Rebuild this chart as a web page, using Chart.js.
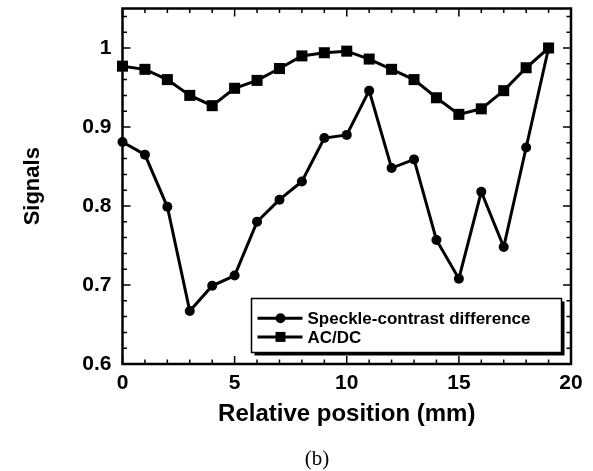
<!DOCTYPE html>
<html><head><meta charset="utf-8">
<script src="https://cdn.jsdelivr.net/npm/chart.js@4/dist/chart.umd.min.js"></script>
<style>html,body{margin:0;padding:0;background:#fff;}canvas{display:block;}</style>
</head><body>
<canvas id="c" width="593" height="471"></canvas>
<script>
const positions = [0,1,2,3,4,5,6,7,8,9,10,11,12,13,14,15,16,17,18,19];
const speckle = [0.881,0.865,0.799,0.667,0.699,0.712,0.780,0.808,0.831,0.886,0.890,0.946,0.848,0.859,0.757,0.708,0.818,0.748,0.874,1.000];
const acdc = [0.977,0.973,0.960,0.940,0.927,0.949,0.959,0.974,0.990,0.994,0.996,0.986,0.973,0.960,0.937,0.916,0.923,0.946,0.975,1.000];
const seriesNames = ['Speckle-contrast difference','AC/DC'];
const xTickValues = [0,5,10,15,20];
const xTickLabels = ['0','5','10','15','20'];
const yTickValues = [0.6,0.7,0.8,0.9,1.0];
const yTickLabels = ['0.6','0.7','0.8','0.9','1'];
const captionText = '(b)';
const xMin = 0, xMax = 20, xMinorStep = 1;
const yMin = 0.6, yMax = 1.05, yMinorStep = 0.02;

const SANS = "'Liberation Sans', Arial, sans-serif";
const SERIF = "'Liberation Serif', 'Times New Roman', serif";

const frameTicks = {
  id: 'frameTicks',
  beforeDatasetsDraw(chart) {
    const {ctx, chartArea: a, scales: {x, y}} = chart;
    ctx.save();
    ctx.strokeStyle = '#000';
    ctx.lineWidth = 1.5;
    ctx.beginPath();
    for (let i = 0; ; i++) {
      const v = xMin + i * xMinorStep;
      if (v > xMax + 1e-9) break;
      const px = x.getPixelForValue(v);
      const major = xTickValues.some(t => Math.abs(t - v) < 1e-9);
      const len = major ? 8 : 4.5;
      ctx.moveTo(px, a.bottom); ctx.lineTo(px, a.bottom - len);
      ctx.moveTo(px, a.top); ctx.lineTo(px, a.top + len);
    }
    for (let i = 0; ; i++) {
      const v = yMin + i * yMinorStep;
      if (v > yMax + 1e-9) break;
      const py = y.getPixelForValue(v);
      const major = yTickValues.some(t => Math.abs(t - v) < 1e-9);
      const len = major ? 8 : 4.5;
      ctx.moveTo(a.left, py); ctx.lineTo(a.left + len, py);
      ctx.moveTo(a.right, py); ctx.lineTo(a.right - len, py);
    }
    ctx.stroke();
    ctx.lineWidth = 2.5;
    ctx.strokeRect(a.left, a.top, a.right - a.left, a.bottom - a.top);
    ctx.restore();
  }
};

const boxLegend = {
  id: 'boxLegend',
  afterDatasetsDraw(chart) {
    const {ctx, chartArea: a} = chart;
    const w = 310, h = 54;
    const right = a.right - 9.5, bottom = a.bottom - 11.5;
    const left = right - w, top = bottom - h;
    ctx.save();
    ctx.fillStyle = '#000';
    ctx.fillRect(left + 3, top + 3, w, h);
    ctx.fillStyle = '#fff';
    ctx.fillRect(left, top, w, h);
    ctx.lineWidth = 1.5;
    ctx.strokeStyle = '#000';
    ctx.strokeRect(left, top, w, h);
    chart.data.datasets.forEach((ds, i) => {
      const cy = top + 19.7 + i * 18.7;
      ctx.strokeStyle = '#000';
      ctx.fillStyle = '#000';
      ctx.lineWidth = 3;
      ctx.beginPath();
      ctx.moveTo(left + 6, cy); ctx.lineTo(left + 51, cy);
      ctx.stroke();
      const mx = left + 29;
      if (ds.pointStyle === 'circle') {
        ctx.beginPath(); ctx.arc(mx, cy, 5, 0, Math.PI * 2); ctx.fill();
      } else {
        ctx.fillRect(mx - 5, cy - 5, 10, 10);
      }
      ctx.font = 'bold 17px ' + SANS;
      ctx.textBaseline = 'middle';
      ctx.textAlign = 'left';
      ctx.fillText(ds.label, left + 56, cy + 1);
    });
    ctx.restore();
  }
};

const caption = {
  id: 'caption',
  afterDraw(chart) {
    const {ctx} = chart;
    ctx.save();
    ctx.fillStyle = '#000';
    ctx.font = '21px ' + SERIF;
    ctx.textAlign = 'center';
    ctx.textBaseline = 'middle';
    ctx.fillText(captionText, 317, 459.5);
    ctx.restore();
  }
};

new Chart(document.getElementById('c'), {
  type: 'line',
  data: {
    datasets: [
      {
        label: seriesNames[0],
        data: positions.map((p, i) => ({x: p, y: speckle[i]})),
        borderColor: '#000', backgroundColor: '#000',
        borderWidth: 3, pointStyle: 'circle', pointRadius: 5,
        pointBorderWidth: 0, tension: 0, clip: false
      },
      {
        label: seriesNames[1],
        data: positions.map((p, i) => ({x: p, y: acdc[i]})),
        borderColor: '#000', backgroundColor: '#000',
        borderWidth: 3, pointStyle: 'rect', pointRadius: 7.8,
        pointBorderWidth: 0, tension: 0, clip: false
      }
    ]
  },
  options: {
    responsive: false,
    animation: false,
    events: [],
    layout: {padding: {top: 8.5, right: 22, bottom: 0, left: 0}},
    plugins: {
      legend: {display: false},
      tooltip: {enabled: false},
      title: {display: false}
    },
    scales: {
      x: {
        type: 'linear', min: xMin, max: xMax,
        afterBuildTicks: s => { s.ticks = xTickValues.map(v => ({value: v})); },
        afterFit: s => { s.height = 107; s.paddingLeft = 0; s.paddingRight = 0; },
        grid: {display: false, drawTicks: false},
        border: {display: false},
        ticks: {
          callback: v => xTickLabels[xTickValues.findIndex(t => Math.abs(t - v) < 1e-9)],
          font: {family: SANS, size: 21, weight: 'bold'}, color: '#000',
          padding: 7, maxRotation: 0, autoSkip: false
        },
        title: {
          display: true, text: 'Relative position (mm)', color: '#000',
          font: {family: SANS, size: 24, weight: 'bold'},
          padding: {top: 0, bottom: 42.6}
        }
      },
      y: {
        type: 'linear', min: yMin, max: yMax,
        afterBuildTicks: s => { s.ticks = yTickValues.map(v => ({value: v})); },
        afterFit: s => { s.width = 122.5; s.paddingTop = 0; s.paddingBottom = 0; },
        grid: {display: false, drawTicks: false},
        border: {display: false},
        ticks: {
          callback: v => yTickLabels[yTickValues.findIndex(t => Math.abs(t - v) < 1e-9)],
          font: {family: SANS, size: 21, weight: 'bold'}, color: '#000',
          padding: 11, autoSkip: false
        },
        title: {
          display: true, text: 'Signals', color: '#000',
          font: {family: SANS, size: 22, weight: 'bold'},
          padding: {top: 20, bottom: 0}
        }
      }
    }
  },
  plugins: [frameTicks, boxLegend, caption]
});
</script>
</body></html>
